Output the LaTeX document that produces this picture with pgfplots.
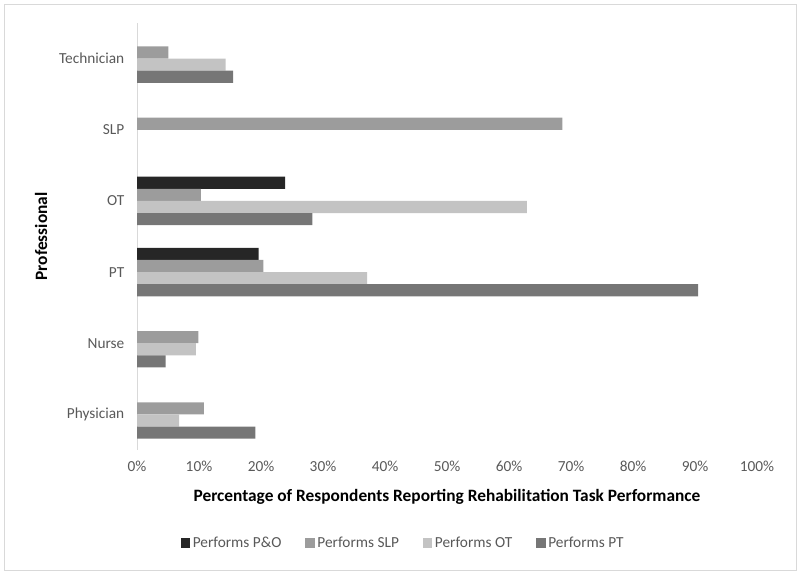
\documentclass[border=0pt]{standalone}
\usepackage{pgfplots}
\pgfplotsset{compat=1.18}
\usepackage{fontspec}
\setmainfont{Carlito}
\definecolor{cPO}{HTML}{262626}
\definecolor{cSLP}{HTML}{9C9C9C}
\definecolor{cOT}{HTML}{C3C3C3}
\definecolor{cPT}{HTML}{767676}
\definecolor{tickgray}{HTML}{595959}
\definecolor{linegray}{HTML}{D9D9D9}
\begin{document}
\begin{tikzpicture}[x=0.75pt,y=0.75pt]
\useasboundingbox (0,0) rectangle (800,574);
\draw[linegray] (4,4) rectangle (796,570);
\begin{axis}[
  at={(137*0.75pt,124*0.75pt)}, anchor=south west,
  scale only axis,
  width=465pt, height=320.25pt,
  xbar, bar width=0.17,
  xmin=0, xmax=100,
  ymin=-0.5, ymax=5.5,
  ytick={0,1,2,3,4,5},
  yticklabels={Physician,Nurse,PT,OT,SLP,Technician},
  xtick={0,10,...,100},
  xticklabels={0\%,10\%,20\%,30\%,40\%,50\%,60\%,70\%,80\%,90\%,100\%},
  major tick length=0pt,
  axis lines*=left,
  x axis line style={draw=none},
  y axis line style={draw=linegray},
  tick label style={font=\fontsize{11.5}{13}\selectfont, text=tickgray},
  yticklabel style={xshift=-6pt},
  xticklabel style={yshift=-5pt},
  xlabel={\textbf{Percentage of Respondents Reporting Rehabilitation Task Performance}},
  ylabel={\textbf{Professional}},
  label style={font=\fontsize{13}{15}\selectfont},
  xlabel style={yshift=-6pt},
  ylabel style={yshift=2pt},
  legend style={at={(0.43,-0.218)}, anchor=center, draw=none, legend columns=4,
    font=\fontsize{11.5}{13}\selectfont, text=tickgray,
    /tikz/every even column/.append style={column sep=16pt}},
  legend image code/.code={\fill[#1] (0pt,-3.5pt) rectangle (7pt,3.5pt);},
]
\addplot[fill=cPO, draw=none, bar shift=0.255] coordinates {(23.9,3) (19.6,2)};
\addplot[fill=cSLP, draw=none, bar shift=0.085] coordinates {(5.05,5) (68.6,4) (10.3,3) (20.4,2) (9.9,1) (10.8,0)};
\addplot[fill=cOT, draw=none, bar shift=-0.085] coordinates {(14.3,5) (62.9,3) (37.1,2) (9.5,1) (6.8,0)};
\addplot[fill=cPT, draw=none, bar shift=-0.255] coordinates {(15.5,5) (28.3,3) (90.5,2) (4.6,1) (19.1,0)};
\legend{Performs P\&O, Performs SLP, Performs OT, Performs PT}
\end{axis}
\end{tikzpicture}
\end{document}
